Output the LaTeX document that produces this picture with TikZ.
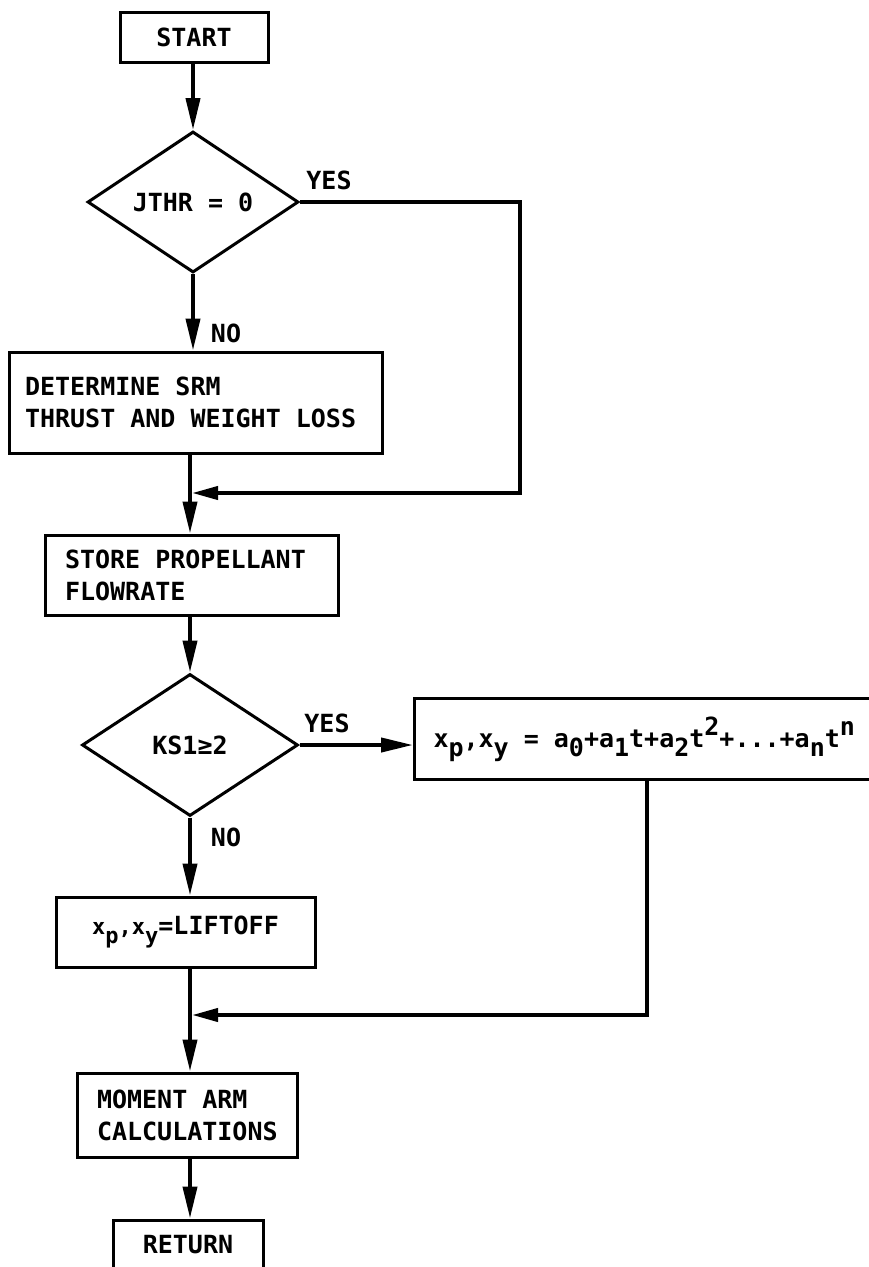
\documentclass[tikz,border=0pt]{standalone}
\usepackage{fontspec}
\setmainfont{DejaVu Sans Mono}[WordSpace={1,0,0}]
\usetikzlibrary{shapes.geometric,arrows.meta}
\newcommand\lowr[1]{\raisebox{-9pt}{#1}}
\newcommand\highr[1]{\raisebox{12pt}{#1}}
\newcommand\fixsp{\spaceskip=0.602em\relax}
\begin{document}
\begin{tikzpicture}[x=1pt,y=-1pt,
  every node/.style={font=\fontsize{25}{32}\selectfont\bfseries},
  box/.style={draw,line width=3pt,rectangle,inner sep=0pt},
  lbox/.style={box,align=left},
  dia/.style={draw,line width=3pt,diamond,inner sep=0pt},
  flow/.style={line width=4pt},
  arr/.style={flow,-{Triangle[length=32pt,width=14pt]}},
  sarr/.style={flow,-{Triangle[length=26pt,width=13pt]},shorten >=2pt},
  lab/.style={inner sep=0pt}]
\useasboundingbox (0,0) rectangle (868,1267);
% nodes
\node[box,minimum width=148pt,minimum height=50pt] (start) at (194,37) {START};
\node[dia,minimum width=211pt,minimum height=141pt] (d1) at (193,202) {JTHR = 0};
\node[lbox,text width=341pt,inner xsep=16pt,minimum height=101pt] (det) at (195.5,402.5)
  {\fixsp DETERMINE SRM\\THRUST AND WEIGHT LOSS};
\node[lbox,text width=253pt,inner xsep=20pt,minimum height=80pt] (store) at (191.5,575)
  {\fixsp STORE PROPELLANT\\FLOWRATE};
\node[dia,minimum width=216pt,minimum height=142pt] (d2) at (190,745) {KS1≥2};
\node[lbox,anchor=west,text width=480pt,inner xsep=19pt,minimum height=81pt] (form) at (413,739)
  {\fixsp x\lowr{p},x\lowr{y} = a\lowr{0}+a\lowr{1}t+a\lowr{2}t\highr{2}+...+a\lowr{n}t\highr{n}};
\node[box,minimum width=259pt,minimum height=70pt] (lift) at (185.5,932)
  {{\fontsize{22}{22}\selectfont x\lowr{p},x\lowr{y}}=LIFTOFF};
\node[lbox,text width=180pt,inner xsep=20pt,minimum height=84pt] (mom) at (187,1115)
  {\fixsp MOMENT ARM\\CALCULATIONS};
\node[box,minimum width=150pt,minimum height=50pt] (ret) at (188,1245) {RETURN};
% labels
\node[lab] (yes1) at (329,180) {YES};
\node[lab] (no1) at (226,333) {NO};
\node[lab] (yes2) at (327,723) {YES};
\node[lab] (no2) at (226,837) {NO};
% coordinates
\coordinate (j1) at (190,493);
\coordinate (c1) at (520,202);
\coordinate (j2) at (190,1015);
\coordinate (c2) at (647,1015);
% connectors
\draw[arr] (start.south -| d1.north) -- (d1.north);
\draw[arr] (d1.south) -- (d1.south |- det.north);
\draw[flow] (j1 |- det.south) -- (j1);
\draw[arr] (j1) -- (j1 |- store.north);
\draw[sarr] (d1.east) -- (c1) -- (c1 |- j1) -- (j1);
\draw[arr] (d2.north |- store.south) -- (d2.north);
\draw[arr] (d2.east) -- (d2.east -| form.west);
\draw[arr] (d2.south) -- (d2.south |- lift.north);
\draw[flow] (j2 |- lift.south) -- (j2);
\draw[sarr] (c2 |- form.south) -- (c2) -- (j2);
\draw[arr] (j2) -- (j2 |- mom.north);
\draw[arr] (j2 |- mom.south) -- (j2 |- ret.north);
\end{tikzpicture}
\end{document}
